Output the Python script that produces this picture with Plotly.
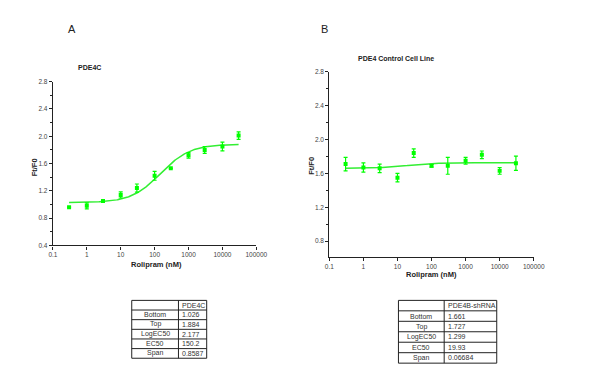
import numpy as np
import plotly.graph_objects as go

# ---------------- data ----------------
conc = [0.3, 1, 3, 10, 30, 100, 300, 1000, 3000, 10000, 30000]

a_vals = [0.96, 0.98, 1.05, 1.14, 1.24, 1.42, 1.53, 1.72, 1.80, 1.85, 2.01]
a_err = [0.0, 0.045, 0.02, 0.045, 0.06, 0.065, 0.0, 0.04, 0.05, 0.065, 0.055]

b_vals = [1.71, 1.67, 1.66, 1.55, 1.84, 1.69, 1.69, 1.75, 1.82, 1.63, 1.72]
b_err = [0.08, 0.055, 0.05, 0.05, 0.05, 0.015, 0.10, 0.04, 0.045, 0.04, 0.085]

param_names = ["Bottom", "Top", "LogEC50", "EC50", "Span"]
a_header = "PDE4C"
a_params_vals = ["1.026", "1.884", "2.177", "150.2", "0.8587"]
b_header = "PDE4B-shRNA"
b_params_vals = ["1.661", "1.727", "1.299", "19.93", "0.06684"]

a_fit = dict(bottom=1.026, top=1.884, logec50=2.177)
b_fit = dict(bottom=1.661, top=1.727, logec50=1.299)

x_tickvals = [0.1, 1, 10, 100, 1000, 10000, 100000]
x_ticktext = ["0.1", "1", "10", "100", "1000", "10000", "100000"]
a_ytick = [0.4, 0.8, 1.2, 1.6, 2.0, 2.4, 2.8]
b_ytick = [0.8, 1.2, 1.6, 2.0, 2.4, 2.8]


def fit_curve(p, xs):
    lx = np.log10(xs)
    return p["bottom"] + (p["top"] - p["bottom"]) / (1 + 10 ** (p["logec50"] - lx))


xs_fit = np.logspace(np.log10(conc[0]), np.log10(conc[-1]), 200)

GREEN = "#00ff00"
LINE = "#33ee33"
FONT = "Liberation Sans"
W, H = 600, 366

fig = go.Figure()

for vals, err, xa, ya, p in [(a_vals, a_err, "x", "y", a_fit),
                             (b_vals, b_err, "x2", "y2", b_fit)]:
    fig.add_trace(go.Scatter(x=xs_fit, y=fit_curve(p, xs_fit), mode="lines",
                             line=dict(color=LINE, width=1.5), xaxis=xa, yaxis=ya,
                             showlegend=False, hoverinfo="skip"))
    fig.add_trace(go.Scatter(x=conc, y=vals, mode="markers",
                             marker=dict(color=GREEN, size=4, symbol="square"),
                             error_y=dict(type="data", array=err, color=GREEN,
                                          thickness=1.2, width=2),
                             xaxis=xa, yaxis=ya, showlegend=False))

tickfont = dict(family=FONT, size=6.5, color="#444")
xcommon = dict(type="log", tickvals=x_tickvals, ticktext=x_ticktext,
               ticks="outside", ticklen=3, tickwidth=1, tickcolor="#222",
               showline=True, linecolor="#222", linewidth=1.2,
               showgrid=False, zeroline=False, tickfont=tickfont,
               range=[-1, 5])
ycommon = dict(ticks="outside", ticklen=3, tickwidth=1, tickcolor="#222",
               showline=True, linecolor="#222", linewidth=1.2,
               showgrid=False, zeroline=False, tickfont=tickfont,
               minor=dict(ticks="outside", ticklen=2, dtick=0.2, tickcolor="#222"))

fig.update_layout(
    width=W, height=H, margin=dict(l=0, r=0, t=0, b=0),
    paper_bgcolor="white", plot_bgcolor="white",
    xaxis=dict(domain=[41 / W, 250 / W], anchor="y", **xcommon),
    yaxis=dict(domain=[1 - 238 / H, 1 - 71 / H], anchor="x", range=[0.4, 2.8],
               tickvals=a_ytick, ticktext=[f"{v:.1f}" for v in a_ytick], **ycommon),
    xaxis2=dict(domain=[325 / W, 535 / W], anchor="y2", **xcommon),
    yaxis2=dict(domain=[1 - 250 / H, 1 - 61 / H], anchor="x2", range=[0.61, 2.8],
                tickvals=b_ytick, ticktext=[f"{v:.1f}" for v in b_ytick], **ycommon),
)


def ann(text, x, y, size, bold=True, angle=0, xanchor="center", color="#222"):
    t = f"<b>{text}</b>" if bold else text
    fig.add_annotation(text=t, x=x / W, y=1 - y / H, xref="paper", yref="paper",
                       showarrow=False, textangle=angle, xanchor=xanchor,
                       yanchor="middle",
                       font=dict(family=FONT, size=size, color=color))


ann("A", 61, 17, 11, bold=False)
ann("B", 320, 17, 11, bold=False)
ann("PDE4C", 65, 57, 7, xanchor="left")
ann("PDE4 Control Cell Line", 352, 47, 7, xanchor="left")
ann("Ft/F0", 23, 158, 7.5, angle=-90)
ann("Ft/F0", 307, 157, 7.5, angle=-90)
ann("Rolipram (nM)", 147, 257, 7.5)
ann("Rolipram (nM)", 430, 268, 7.5)


def table(x0, xs, x1, y0, y1, header, names, values):
    n = len(names) + 1
    rh = (y1 - y0) / n
    line = dict(color="#222", width=1)
    fig.add_shape(type="rect", xref="paper", yref="paper",
                  x0=x0 / W, x1=x1 / W, y0=1 - y1 / H, y1=1 - y0 / H, line=line)
    fig.add_shape(type="line", xref="paper", yref="paper",
                  x0=xs / W, x1=xs / W, y0=1 - y1 / H, y1=1 - y0 / H, line=line)
    for i in range(1, n):
        yy = y0 + i * rh
        fig.add_shape(type="line", xref="paper", yref="paper",
                      x0=x0 / W, x1=x1 / W, y0=1 - yy / H, y1=1 - yy / H, line=line)
    ann(header, xs + 2, y0 + rh / 2, 7, bold=False, xanchor="left", color="#333")
    for i, (nm, v) in enumerate(zip(names, values)):
        yc = y0 + (i + 1.5) * rh
        ann(nm, (x0 + xs) / 2, yc, 7, bold=False, color="#333")
        ann(v, xs + 2, yc, 7, bold=False, xanchor="left", color="#333")


table(122, 170, 199, 294, 353, a_header, param_names, a_params_vals)
table(396, 443, 497, 294, 358, b_header, param_names, b_params_vals)

fig.write_html("out.html")
